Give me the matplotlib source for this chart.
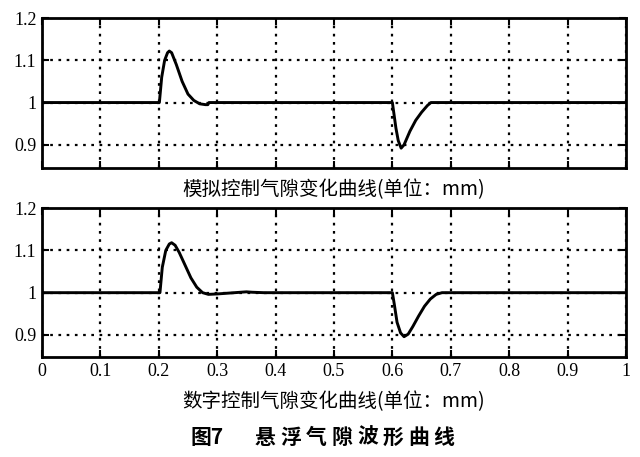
import matplotlib
matplotlib.use("Agg")
import matplotlib.pyplot as plt
import numpy as np

# ---- data ----
t_analog = [0, 0.2, 0.201, 0.205, 0.21, 0.215, 0.218, 0.222, 0.23, 0.24, 0.25, 0.26,
            0.27, 0.28, 0.284, 0.286, 0.6, 0.602, 0.606, 0.61, 0.615, 0.62, 0.63,
            0.64, 0.65, 0.66, 0.666, 1.0]
y_analog = [1.0, 1.0, 1.0, 1.06, 1.10, 1.118, 1.122, 1.118, 1.09, 1.05, 1.02, 1.005,
            0.997, 0.995, 0.995, 1.0, 1.0, 0.98, 0.94, 0.91, 0.892, 0.9, 0.932,
            0.958, 0.977, 0.993, 1.0, 1.0]

t_digital = [0, 0.2, 0.202, 0.206, 0.212, 0.218, 0.222, 0.228, 0.235, 0.245, 0.255,
             0.265, 0.275, 0.285, 0.3, 0.32, 0.35, 0.36, 0.38, 0.6, 0.603, 0.608,
             0.614, 0.62, 0.627, 0.635, 0.645, 0.655, 0.665, 0.675, 0.685, 1.0]
y_digital = [1.0, 1.0, 1.0, 1.06, 1.10, 1.115, 1.118, 1.112, 1.095, 1.065, 1.035,
             1.013, 1.0, 0.996, 0.997, 0.999, 1.002, 1.001, 1.0, 1.0, 0.975, 0.93,
             0.905, 0.896, 0.902, 0.92, 0.945, 0.968, 0.985, 0.996, 1.0, 1.0]

x_ticks = [0, 0.1, 0.2, 0.3, 0.4, 0.5, 0.6, 0.7, 0.8, 0.9, 1.0]
x_tick_labels = ["0", "0.1", "0.2", "0.3", "0.4", "0.5", "0.6", "0.7", "0.8", "0.9", "1"]
y_ticks = [0.9, 1.0, 1.1, 1.2]
y_tick_labels = ["0.9", "1", "1.1", "1.2"]

title_top = "模拟控制气隙变化曲线(单位：mm)"
title_bottom = "数字控制气隙变化曲线(单位：mm)"
caption_fig = "图7"
caption_text = "悬浮气隙波形曲线"

CJK = ["Noto Sans CJK SC", "DejaVu Sans"]
SERIF = ["Liberation Serif", "DejaVu Serif"]

fig = plt.figure(figsize=(6.4, 4.57), dpi=100)
fig.patch.set_facecolor("white")

ax1 = fig.add_axes([0.0656, 0.6324, 0.9125, 0.328])
ax2 = fig.add_axes([0.0656, 0.2188, 0.9125, 0.326])

for ax, t, y, ylim in [(ax1, t_analog, y_analog, (0.845, 1.2)),
                       (ax2, t_digital, y_digital, (0.848, 1.2))]:
    ax.plot(t, y, color="black", linewidth=2.1, solid_joinstyle="round")
    ax.set_xlim(0, 1)
    ax.set_ylim(*ylim)
    ax.set_xticks(x_ticks)
    ax.set_yticks(y_ticks)
    ax.set_yticklabels(y_tick_labels, fontfamily=SERIF, fontsize=13)
    ax.grid(True, color="black", linestyle=(0, (1.2, 2.5)), linewidth=1.6)
    ax.tick_params(direction="in", top=True, right=True, length=5, width=1.5, pad=4)
    for s in ax.spines.values():
        s.set_linewidth(2.0)

ax1.set_xticklabels([])
ax2.set_xticklabels(x_tick_labels, fontfamily=SERIF, fontsize=13)

ax1.set_xlabel(title_top, fontfamily=CJK, fontsize=14, labelpad=4)
ax2.set_xlabel(title_bottom, fontfamily=CJK, fontsize=14, labelpad=8)

# caption
fig.text(190 / 640, 1 - 437 / 457, caption_fig, fontfamily=CJK, fontsize=15,
         fontweight="bold", ha="left", va="center")
x0 = 255
for i, ch in enumerate(caption_text):
    fig.text((x0 + i * 25.5) / 640, 1 - 437 / 457, ch, fontfamily=CJK, fontsize=15,
             fontweight="bold", ha="left", va="center")

fig.savefig("out.png", dpi=100, facecolor="white")
